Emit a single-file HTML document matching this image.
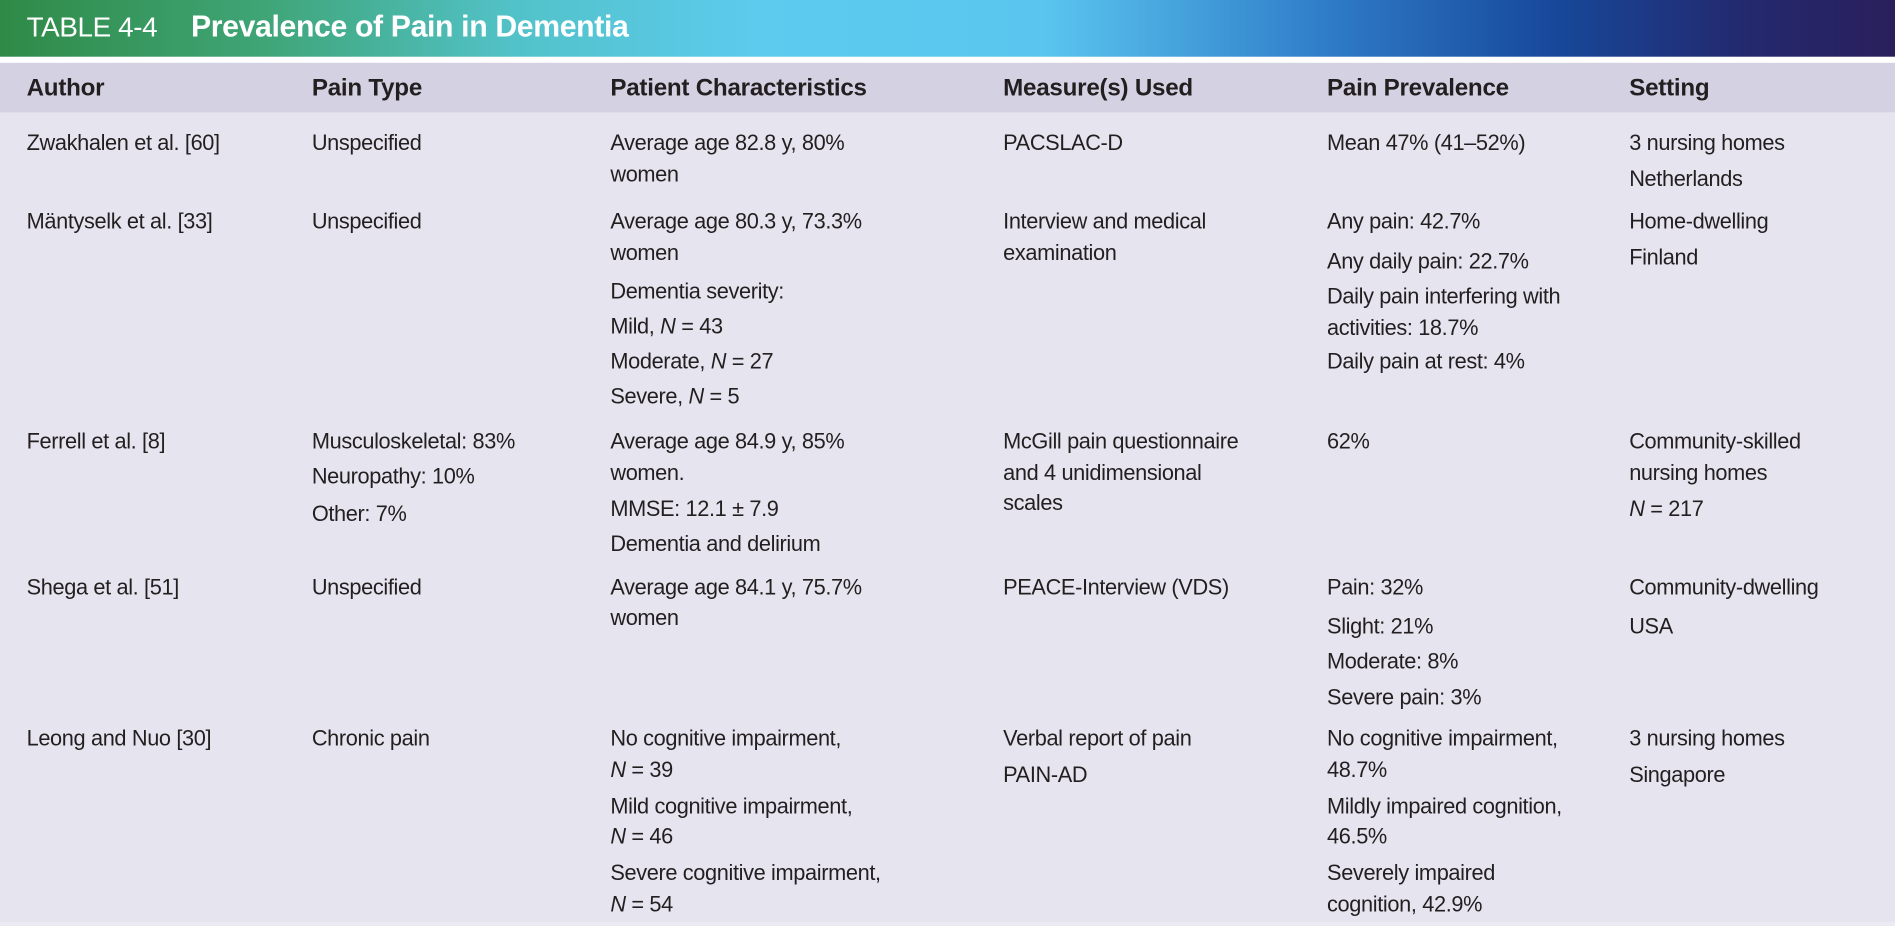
<!DOCTYPE html>
<html><head><meta charset="utf-8">
<style>
html,body{margin:0;padding:0;width:1895px;height:926px;overflow:hidden;background:#e6e4ef;}
#w{position:absolute;left:0;top:0;width:1568px;height:766px;transform:scale(1.2086);transform-origin:0 0;font-family:"Liberation Sans",sans-serif;color:#231f20;}
#band{position:absolute;left:0;top:0;width:1568px;height:47px;background:linear-gradient(90deg,#2f8a46 0%,#3fa577 14%,#52c2c8 27%,#5ccbee 40%,#5ac6ef 55%,#2f7cc8 70%,#17489a 82%,#23296e 92%,#2a1f5c 100%);}
#gap{position:absolute;left:0;top:47px;width:1568px;height:5px;background:#fff;}
#hdr{position:absolute;left:0;top:52px;width:1568px;height:41px;background:#d4d2e2;}
#body{position:absolute;left:0;top:93px;width:1568px;height:670px;background:#e6e4ef;}
#foot{position:absolute;left:0;top:763px;width:1568px;height:3px;background:#ecebf3;}
.t{position:absolute;white-space:nowrap;font-size:18px;line-height:22px;letter-spacing:-0.3px;}
.h{font-weight:bold;font-size:20px;letter-spacing:-0.2px;}
#title{position:absolute;left:22px;top:7px;color:#fff;font-size:23px;line-height:30px;white-space:nowrap;letter-spacing:-0.3px;}
#title b{position:absolute;left:136px;top:0;font-size:25px;}
</style></head><body>
<div id="w">
<div id="band"></div><div id="gap"></div><div id="hdr"></div><div id="body"></div><div id="foot"></div>
<div id="title">TABLE 4-4<b>Prevalence of Pain in Dementia</b></div>

<div class="t h" style="left:22px;top:62px">Author</div>
<div class="t h" style="left:258px;top:62px">Pain Type</div>
<div class="t h" style="left:505px;top:62px">Patient Characteristics</div>
<div class="t h" style="left:830px;top:62px">Measure(s) Used</div>
<div class="t h" style="left:1098px;top:62px">Pain Prevalence</div>
<div class="t h" style="left:1348px;top:62px">Setting</div>

<!-- row1 -->
<div class="t" style="left:22px;top:107px">Zwakhalen et al. [60]</div>
<div class="t" style="left:258px;top:107px">Unspecified</div>
<div class="t" style="left:505px;top:107px">Average age 82.8 y, 80%</div>
<div class="t" style="left:505px;top:133px">women</div>
<div class="t" style="left:830px;top:107px">PACSLAC-D</div>
<div class="t" style="left:1098px;top:107px">Mean 47% (41–52%)</div>
<div class="t" style="left:1348px;top:107px">3 nursing homes</div>
<div class="t" style="left:1348px;top:137px">Netherlands</div>

<!-- row2 -->
<div class="t" style="left:22px;top:172px">Mäntyselk et al. [33]</div>
<div class="t" style="left:258px;top:172px">Unspecified</div>
<div class="t" style="left:505px;top:172px">Average age 80.3 y, 73.3%</div>
<div class="t" style="left:505px;top:198px">women</div>
<div class="t" style="left:505px;top:230px">Dementia severity:</div>
<div class="t" style="left:505px;top:259px">Mild, <i>N</i> = 43</div>
<div class="t" style="left:505px;top:288px">Moderate, <i>N</i> = 27</div>
<div class="t" style="left:505px;top:317px">Severe, <i>N</i> = 5</div>
<div class="t" style="left:830px;top:172px">Interview and medical</div>
<div class="t" style="left:830px;top:198px">examination</div>
<div class="t" style="left:1098px;top:172px">Any pain: 42.7%</div>
<div class="t" style="left:1098px;top:205px">Any daily pain: 22.7%</div>
<div class="t" style="left:1098px;top:234px">Daily pain interfering with</div>
<div class="t" style="left:1098px;top:260px">activities: 18.7%</div>
<div class="t" style="left:1098px;top:288px">Daily pain at rest: 4%</div>
<div class="t" style="left:1348px;top:172px">Home-dwelling</div>
<div class="t" style="left:1348px;top:202px">Finland</div>

<!-- row3 -->
<div class="t" style="left:22px;top:354px">Ferrell et al. [8]</div>
<div class="t" style="left:258px;top:354px">Musculoskeletal: 83%</div>
<div class="t" style="left:258px;top:383px">Neuropathy: 10%</div>
<div class="t" style="left:258px;top:414px">Other: 7%</div>
<div class="t" style="left:505px;top:354px">Average age 84.9 y, 85%</div>
<div class="t" style="left:505px;top:380px">women.</div>
<div class="t" style="left:505px;top:410px">MMSE: 12.1 ± 7.9</div>
<div class="t" style="left:505px;top:439px">Dementia and delirium</div>
<div class="t" style="left:830px;top:354px">McGill pain questionnaire</div>
<div class="t" style="left:830px;top:380px">and 4 unidimensional</div>
<div class="t" style="left:830px;top:405px">scales</div>
<div class="t" style="left:1098px;top:354px">62%</div>
<div class="t" style="left:1348px;top:354px">Community-skilled</div>
<div class="t" style="left:1348px;top:380px">nursing homes</div>
<div class="t" style="left:1348px;top:410px"><i>N</i> = 217</div>

<!-- row4 -->
<div class="t" style="left:22px;top:475px">Shega et al. [51]</div>
<div class="t" style="left:258px;top:475px">Unspecified</div>
<div class="t" style="left:505px;top:475px">Average age 84.1 y, 75.7%</div>
<div class="t" style="left:505px;top:500px">women</div>
<div class="t" style="left:830px;top:475px">PEACE-Interview (VDS)</div>
<div class="t" style="left:1098px;top:475px">Pain: 32%</div>
<div class="t" style="left:1098px;top:507px">Slight: 21%</div>
<div class="t" style="left:1098px;top:536px">Moderate: 8%</div>
<div class="t" style="left:1098px;top:566px">Severe pain: 3%</div>
<div class="t" style="left:1348px;top:475px">Community-dwelling</div>
<div class="t" style="left:1348px;top:507px">USA</div>

<!-- row5 -->
<div class="t" style="left:22px;top:600px">Leong and Nuo [30]</div>
<div class="t" style="left:258px;top:600px">Chronic pain</div>
<div class="t" style="left:505px;top:600px">No cognitive impairment,</div>
<div class="t" style="left:505px;top:626px"><i>N</i> = 39</div>
<div class="t" style="left:505px;top:656px">Mild cognitive impairment,</div>
<div class="t" style="left:505px;top:681px"><i>N</i> = 46</div>
<div class="t" style="left:505px;top:711px">Severe cognitive impairment,</div>
<div class="t" style="left:505px;top:737px"><i>N</i> = 54</div>
<div class="t" style="left:830px;top:600px">Verbal report of pain</div>
<div class="t" style="left:830px;top:630px">PAIN-AD</div>
<div class="t" style="left:1098px;top:600px">No cognitive impairment,</div>
<div class="t" style="left:1098px;top:626px">48.7%</div>
<div class="t" style="left:1098px;top:656px">Mildly impaired cognition,</div>
<div class="t" style="left:1098px;top:681px">46.5%</div>
<div class="t" style="left:1098px;top:711px">Severely impaired</div>
<div class="t" style="left:1098px;top:737px">cognition, 42.9%</div>
<div class="t" style="left:1348px;top:600px">3 nursing homes</div>
<div class="t" style="left:1348px;top:630px">Singapore</div>
</div>
</body></html>
